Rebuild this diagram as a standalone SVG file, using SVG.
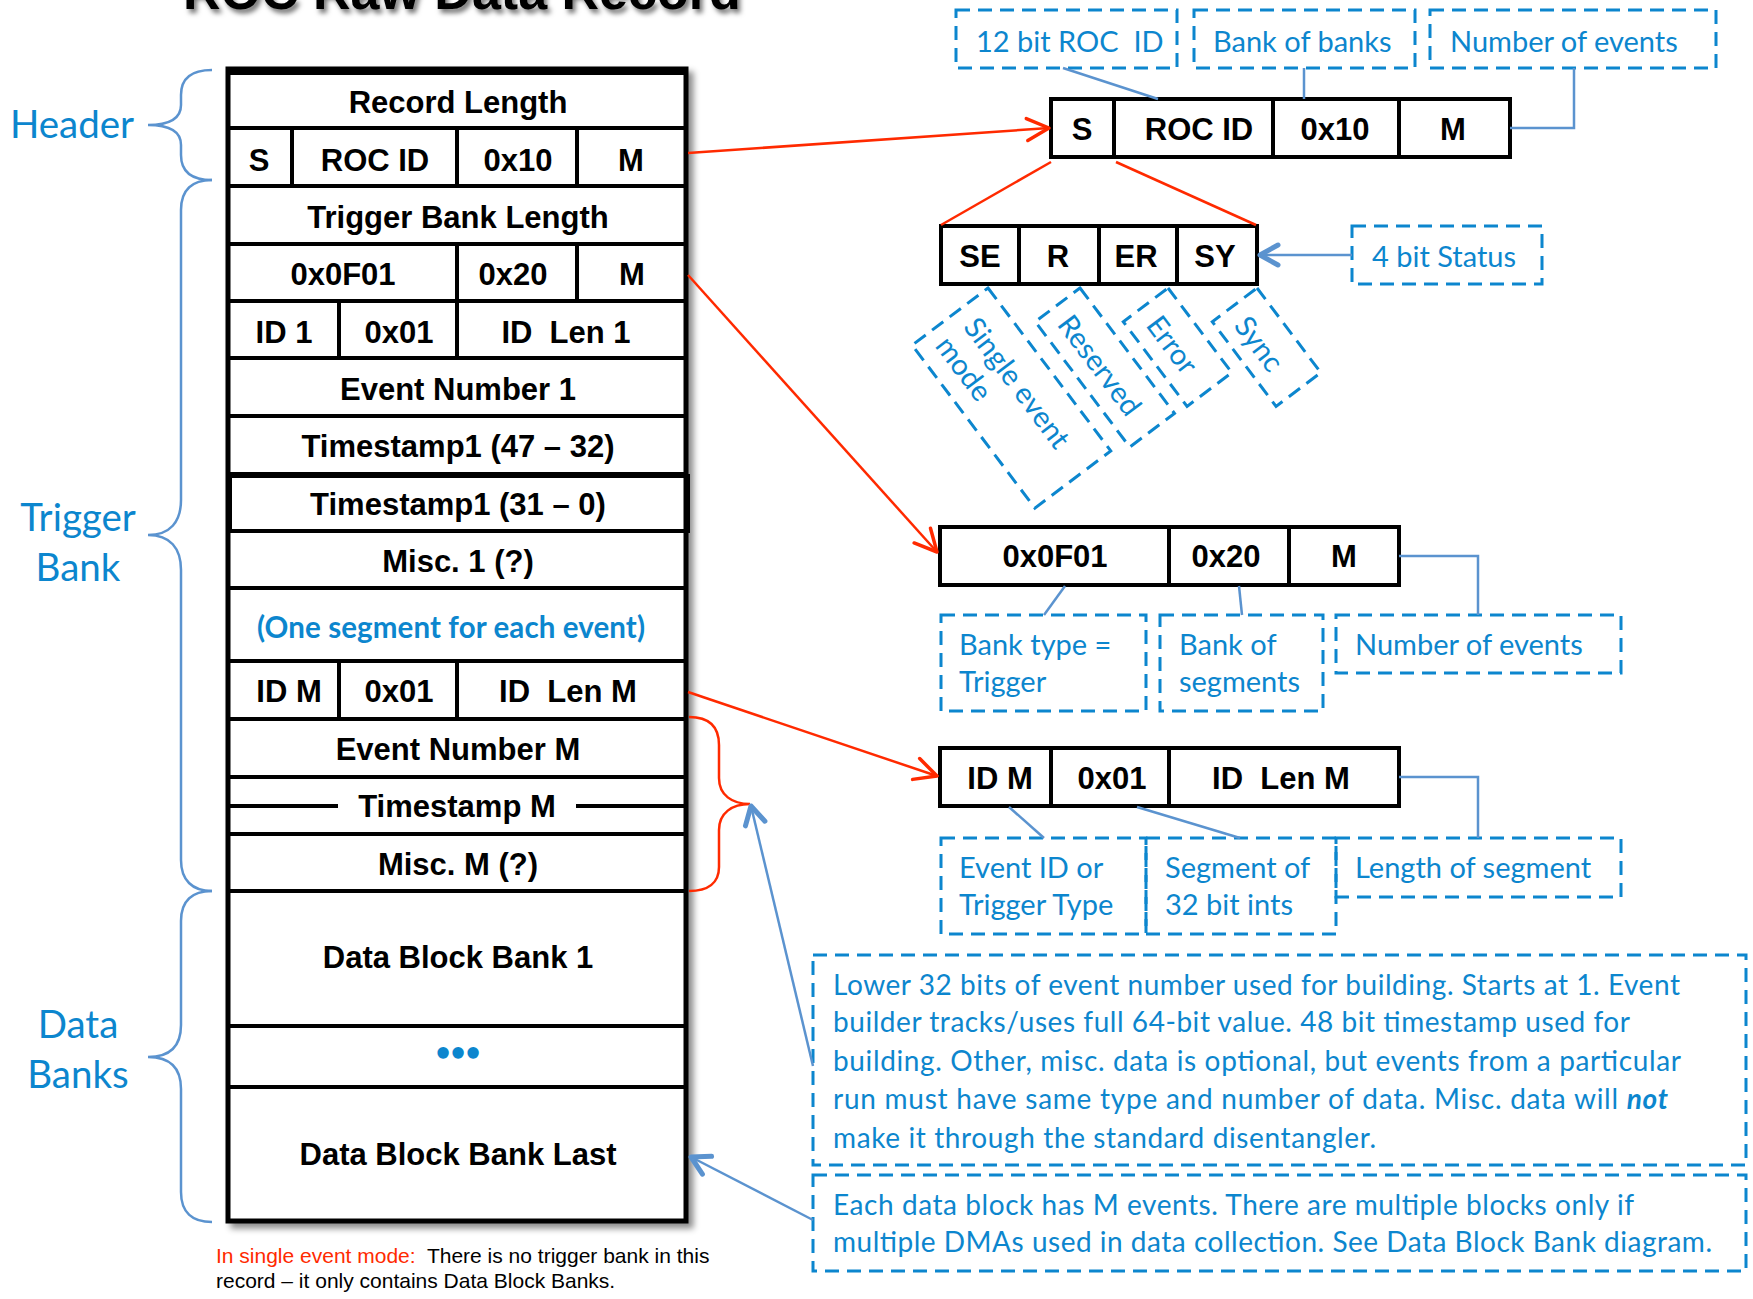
<svg xmlns="http://www.w3.org/2000/svg" width="1753" height="1299" viewBox="0 0 1753 1299">
<defs>
<style>
.cell{fill:#fff;stroke:#000;stroke-width:4}
.ln{stroke:#000;stroke-width:4;fill:none}
.b{font-family:"Liberation Sans",Arial,sans-serif;font-weight:bold;font-size:31px;text-anchor:middle;fill:#000}
.lbl{font-family:Lato,"Noto Sans",sans-serif;font-size:29px;fill:#0C86CE}
.big{font-family:Lato,"Noto Sans",sans-serif;font-size:38.5px;fill:#0C86CE;text-anchor:middle}
.para{font-family:Lato,"Noto Sans",sans-serif;font-size:28px;fill:#0C86CE}
.dash{fill:none;stroke:#0C86CE;stroke-width:3;stroke-dasharray:14 8}
.conn{fill:none;stroke:#5B93CF;stroke-width:2.5}
.red{fill:none;stroke:#FF2A00;stroke-width:2.5}
.note{font-family:"Liberation Sans",Arial,sans-serif;font-size:21px;fill:#000}
</style>
<filter id="sh" x="-10%" y="-10%" width="130%" height="130%">
<feDropShadow dx="5" dy="5" stdDeviation="3" flood-color="#000" flood-opacity="0.45"/>
</filter>
<filter id="tsh" x="-10%" y="-50%" width="130%" height="200%">
<feDropShadow dx="3" dy="4" stdDeviation="2.5" flood-color="#000" flood-opacity="0.55"/>
</filter>
<marker id="ar" markerUnits="userSpaceOnUse" viewBox="-26 -14 30 28" markerWidth="30" markerHeight="28" refX="0" refY="0" orient="auto" overflow="visible">
<path d="M-22,-11 L0,0 L-22,11" fill="none" stroke="#FF2A00" stroke-width="3.5" stroke-linecap="round" stroke-linejoin="round"/>
</marker>
<marker id="ab" markerUnits="userSpaceOnUse" viewBox="-24 -14 28 28" markerWidth="28" markerHeight="28" refX="0" refY="0" orient="auto" overflow="visible">
<path d="M-18,-10 L0,0 L-18,10" fill="none" stroke="#5B93CF" stroke-width="5" stroke-linecap="round" stroke-linejoin="round"/>
</marker>
</defs>
<rect width="1753" height="1299" fill="#fff"/>

<g id="title">
<text x="183" y="9" filter="url(#tsh)" style="font-family:'Liberation Sans',Arial,sans-serif;font-weight:bold;font-size:52px;fill:#000">ROC Raw Data Record</text>
</g>

<g id="labels-left">
<g id="label-header"><text class="big" x="72" y="138">Header</text></g>
<g id="label-trigger"><text class="big" x="78" y="531">Trigger</text><text class="big" x="78" y="581">Bank</text></g>
<g id="label-data"><text class="big" x="78" y="1038">Data</text><text class="big" x="78" y="1088">Banks</text></g>
</g>

<g id="record">
<rect x="228" y="69" width="458" height="1152" fill="#fff" stroke="#000" stroke-width="5" filter="url(#sh)"/>
<line class="ln" x1="228" y1="73" x2="686" y2="73"/>
<g id="row-record-length"><line class="ln" x1="228" y1="128" x2="686" y2="128"/><text class="b" x="458" y="113">Record Length</text></g>
<g id="row-header"><line class="ln" x1="228" y1="186" x2="686" y2="186"/>
<line class="ln" x1="292" y1="128" x2="292" y2="186"/><line class="ln" x1="457" y1="128" x2="457" y2="186"/><line class="ln" x1="577" y1="128" x2="577" y2="186"/>
<text class="b" x="259" y="171">S</text><text class="b" x="375" y="171">ROC ID</text><text class="b" x="518" y="171">0x10</text><text class="b" x="631" y="171">M</text></g>
<g id="row-trig-len"><line class="ln" x1="228" y1="244" x2="686" y2="244"/><text class="b" x="458" y="228">Trigger Bank Length</text></g>
<g id="row-trig-head"><line class="ln" x1="228" y1="301" x2="686" y2="301"/>
<line class="ln" x1="457" y1="244" x2="457" y2="301"/><line class="ln" x1="577" y1="244" x2="577" y2="301"/>
<text class="b" x="343" y="285">0x0F01</text><text class="b" x="513" y="285">0x20</text><text class="b" x="632" y="285">M</text></g>
<g id="row-id1"><line class="ln" x1="228" y1="358" x2="686" y2="358"/>
<line class="ln" x1="339" y1="301" x2="339" y2="358"/><line class="ln" x1="457" y1="301" x2="457" y2="358"/>
<text class="b" x="284" y="343">ID 1</text><text class="b" x="399" y="343">0x01</text><text class="b" x="566" y="343" xml:space="preserve">ID  Len 1</text></g>
<g id="row-ev1"><line class="ln" x1="228" y1="416" x2="686" y2="416"/><text class="b" x="458" y="400">Event Number 1</text></g>
<g id="row-ts1a"><line class="ln" x1="228" y1="474" x2="686" y2="474"/><text class="b" x="458" y="457">Timestamp1 (47 – 32)</text></g>
<g id="row-ts1b"><rect x="230" y="476" width="458" height="55" fill="none" stroke="#000" stroke-width="4"/><text class="b" x="458" y="515">Timestamp1 (31 – 0)</text></g>
<g id="row-misc1"><line class="ln" x1="228" y1="588" x2="686" y2="588"/><text class="b" x="458" y="572">Misc. 1 (?)</text></g>
<g id="row-seg"><line class="ln" x1="228" y1="661" x2="686" y2="661"/><text x="257" y="638" textLength="388" style="font-family:Lato,'Noto Sans',sans-serif;font-weight:bold;font-size:29.5px;fill:#0C86CE">(One segment for each event)</text></g>
<g id="row-idm"><line class="ln" x1="228" y1="719" x2="686" y2="719"/>
<line class="ln" x1="339" y1="661" x2="339" y2="719"/><line class="ln" x1="457" y1="661" x2="457" y2="719"/>
<text class="b" x="289" y="702">ID M</text><text class="b" x="399" y="702">0x01</text><text class="b" x="568" y="702" xml:space="preserve">ID  Len M</text></g>
<g id="row-evm"><line class="ln" x1="228" y1="777" x2="686" y2="777"/><text class="b" x="458" y="760">Event Number M</text></g>
<g id="row-tsm"><line class="ln" x1="228" y1="834" x2="686" y2="834"/>
<line class="ln" x1="228" y1="806" x2="338" y2="806"/><line class="ln" x1="576" y1="806" x2="686" y2="806"/>
<text class="b" x="457" y="817">Timestamp M</text></g>
<g id="row-miscm"><line class="ln" x1="228" y1="891" x2="686" y2="891"/><text class="b" x="458" y="875">Misc. M (?)</text></g>
<g id="row-db1"><line class="ln" x1="228" y1="1026" x2="686" y2="1026"/><text class="b" x="458" y="968">Data Block Bank 1</text></g>
<g id="row-dots"><line class="ln" x1="228" y1="1087" x2="686" y2="1087"/><text x="458" y="1061" style="font-family:Lato,'Noto Sans',sans-serif;font-weight:bold;font-size:26px;fill:#0C86CE;text-anchor:middle">•••</text></g>
<g id="row-dblast"><text class="b" x="458" y="1165">Data Block Bank Last</text></g>
</g>

<g id="note">
<text class="note" x="216" y="1263" xml:space="preserve"><tspan fill="#FF2A00">In single event mode:</tspan>  There is no trigger bank in this</text>
<text class="note" x="216" y="1288">record – it only contains Data Block Banks.</text>
</g>

<g id="hdr-word">
<rect class="cell" x="1051" y="99" width="459" height="58"/>
<line class="ln" x1="1114" y1="99" x2="1114" y2="157"/><line class="ln" x1="1273" y1="99" x2="1273" y2="157"/><line class="ln" x1="1399" y1="99" x2="1399" y2="157"/>
<text class="b" x="1082" y="140">S</text><text class="b" x="1199" y="140">ROC ID</text><text class="b" x="1335" y="140">0x10</text><text class="b" x="1453" y="140">M</text>
</g>

<g id="status-word">
<rect class="cell" x="941" y="226" width="316" height="58"/>
<line class="ln" x1="1019" y1="226" x2="1019" y2="284"/><line class="ln" x1="1099" y1="226" x2="1099" y2="284"/><line class="ln" x1="1177" y1="226" x2="1177" y2="284"/>
<text class="b" x="980" y="267">SE</text><text class="b" x="1058" y="267">R</text><text class="b" x="1136" y="267">ER</text><text class="b" x="1215" y="267">SY</text>
</g>

<g id="trig-word">
<rect class="cell" x="940" y="527" width="459" height="58"/>
<line class="ln" x1="1169" y1="527" x2="1169" y2="585"/><line class="ln" x1="1289" y1="527" x2="1289" y2="585"/>
<text class="b" x="1055" y="567">0x0F01</text><text class="b" x="1226" y="567">0x20</text><text class="b" x="1344" y="567">M</text>
</g>

<g id="seg-word">
<rect class="cell" x="940" y="748" width="459" height="58"/>
<line class="ln" x1="1051" y1="748" x2="1051" y2="806"/><line class="ln" x1="1169" y1="748" x2="1169" y2="806"/>
<text class="b" x="1000" y="789">ID M</text><text class="b" x="1112" y="789">0x01</text><text class="b" x="1281" y="789" xml:space="preserve">ID  Len M</text>
</g>

<g id="note-roc-id"><rect class="dash" x="956" y="10" width="221" height="58"/><text class="lbl" x="976" y="52" xml:space="preserve">12 bit ROC  ID</text></g>
<g id="note-bank-of-banks"><rect class="dash" x="1194" y="10" width="221" height="58"/><text class="lbl" x="1213" y="52">Bank of banks</text></g>
<g id="note-num-events-1"><rect class="dash" x="1430" y="10" width="286" height="58"/><text class="lbl" x="1450" y="52">Number of events</text></g>
<g id="note-status"><rect class="dash" x="1352" y="226" width="190" height="58"/><text class="lbl" x="1372" y="267">4 bit Status</text></g>

<g id="note-se" transform="translate(988,288) rotate(53)"><rect class="dash" x="0" y="0" width="204" height="95"/><text class="lbl" x="16" y="44">Single event</text><text class="lbl" x="14" y="78">mode</text></g>
<g id="note-r" transform="translate(1080,288) rotate(53)"><rect class="dash" x="0" y="0" width="157" height="56"/><text class="lbl" x="15" y="41">Reserved</text></g>
<g id="note-er" transform="translate(1168,288) rotate(53)"><rect class="dash" x="0" y="0" width="106" height="56"/><text class="lbl" x="16" y="41">Error</text></g>
<g id="note-sy" transform="translate(1257,288) rotate(53)"><rect class="dash" x="0" y="0" width="106" height="56"/><text class="lbl" x="16" y="42">Sync</text></g>

<g id="note-banktype"><rect class="dash" x="941" y="615" width="205" height="96"/><text class="lbl" x="959" y="655">Bank type =</text><text class="lbl" x="959" y="692">Trigger</text></g>
<g id="note-bank-of-seg"><rect class="dash" x="1160" y="615" width="163" height="96"/><text class="lbl" x="1179" y="655">Bank of</text><text class="lbl" x="1179" y="692">segments</text></g>
<g id="note-num-events-2"><rect class="dash" x="1336" y="615" width="285" height="58"/><text class="lbl" x="1355" y="655">Number of events</text></g>

<g id="note-eventid"><rect class="dash" x="941" y="838" width="205" height="96"/><text class="lbl" x="959" y="878">Event ID or</text><text class="lbl" x="959" y="915">Trigger Type</text></g>
<g id="note-segment"><rect class="dash" x="1146" y="838" width="190" height="96"/><text class="lbl" x="1165" y="878">Segment of</text><text class="lbl" x="1165" y="915">32 bit ints</text></g>
<g id="note-length"><rect class="dash" x="1336" y="838" width="285" height="59"/><text class="lbl" x="1355" y="878">Length of segment</text></g>

<g id="note-para1"><rect class="dash" x="813" y="955" width="933" height="210"/>
<text class="para" x="833" y="995" textLength="847">Lower 32 bits of event number used for building. Starts at 1. Event</text>
<text class="para" x="833" y="1032" textLength="797">builder tracks/uses full 64-bit value. 48 bit timestamp used for</text>
<text class="para" x="833" y="1071" textLength="848">building. Other, misc. data is optional, but events from a particular</text>
<text class="para" x="833" y="1109" textLength="835">run must have same type and number of data. Misc. data will <tspan font-weight="bold" font-style="italic">not</tspan></text>
<text class="para" x="833" y="1148" textLength="543">make it through the standard disentangler.</text>
</g>
<g id="note-para2"><rect class="dash" x="813" y="1175" width="933" height="96"/>
<text class="para" x="833" y="1215" textLength="801">Each data block has M events. There are multiple blocks only if</text>
<text class="para" x="833" y="1252" textLength="879">multiple DMAs used in data collection. See Data Block Bank diagram.</text>
</g>

<g id="connectors">
<path class="conn" d="M212,70 C192,70 181,78 181,95 L181,105 C181,118 170,125 148,125 C170,125 181,132 181,145 L181,155 C181,172 192,180 212,180"/>
<path class="conn" d="M212,180 C192,180 181,190 181,210 L181,500 C181,522 170,535 148,535 C170,535 181,548 181,570 L181,860 C181,880 192,891 212,891"/>
<path class="conn" d="M212,891 C192,891 181,901 181,921 L181,1025 C181,1046 170,1057 148,1057 C170,1057 181,1068 181,1089 L181,1192 C181,1212 192,1222 212,1222"/>
<path class="red" d="M689,717 C708,717 719,725 719,745 L719,778 C719,795 732,804 750,804 C732,804 719,813 719,830 L719,867 C719,883 708,891 689,891"/>
<line class="red" x1="688" y1="153" x2="1049" y2="128" marker-end="url(#ar)"/>
<line class="red" x1="688" y1="275" x2="937" y2="552" marker-end="url(#ar)"/>
<line class="red" x1="688" y1="692" x2="937" y2="776" marker-end="url(#ar)"/>
<line class="red" x1="1051" y1="162" x2="941" y2="225"/>
<line class="red" x1="1116" y1="162" x2="1256" y2="225"/>
<line class="conn" x1="1063" y1="68" x2="1158" y2="99"/>
<line class="conn" x1="1304" y1="68" x2="1304" y2="99"/>
<polyline class="conn" points="1574,68 1574,128 1510,128"/>
<line class="conn" x1="1065" y1="586" x2="1044" y2="615"/>
<line class="conn" x1="1239" y1="586" x2="1242" y2="615"/>
<polyline class="conn" points="1399,556 1478,556 1478,615"/>
<line class="conn" x1="1009" y1="807" x2="1044" y2="838"/>
<line class="conn" x1="1137" y1="807" x2="1240" y2="838"/>
<polyline class="conn" points="1399,777 1478,777 1478,838"/>
<line class="conn" x1="1352" y1="255" x2="1260" y2="255" marker-end="url(#ab)"/>
<line class="conn" x1="813" y1="1066" x2="751" y2="806" marker-end="url(#ab)"/>
<line class="conn" x1="813" y1="1220" x2="691" y2="1157" marker-end="url(#ab)"/>
</g>
</svg>
